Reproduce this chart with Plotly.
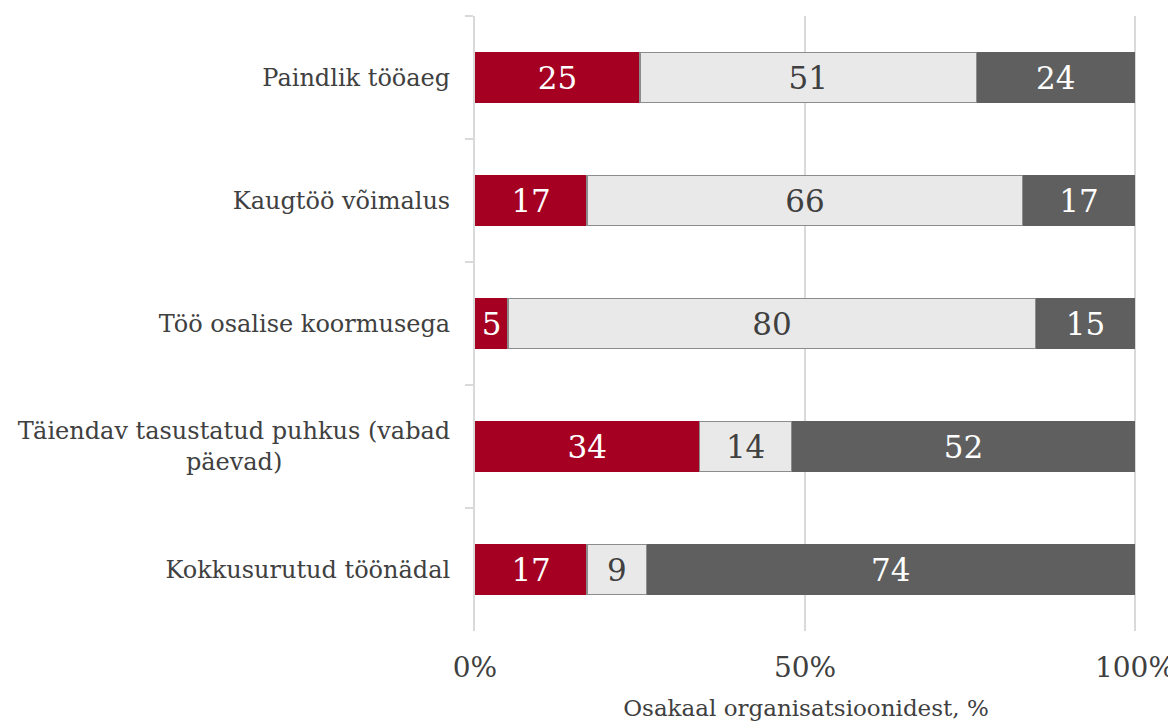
import plotly.graph_objects as go

categories = [
    "Paindlik tööaeg",
    "Kaugtöö võimalus",
    "Töö osalise koormusega",
    "Täiendav tasustatud puhkus (vabad<br>päevad)" + "\u00a0" * 22,
    "Kokkusurutud töönädal",
]
series_a = [25, 17, 5, 34, 17]
series_b = [51, 66, 80, 14, 9]
series_c = [24, 17, 15, 52, 74]
x_ticks = [0, 50, 100]
x_tick_labels = ["0%", "50%", "100%"]

FONT = "DejaVu Serif"
fig = go.Figure()

def add(vals, fill, line_color, line_w, txt_color, name):
    fig.add_trace(go.Bar(
        y=categories, x=vals, orientation="h", name=name,
        marker=dict(color=fill, line=dict(color=line_color, width=line_w)),
        text=[str(v) for v in vals], textposition="inside",
        insidetextanchor="middle", textangle=0, constraintext="none",
        textfont=dict(family=FONT, size=31, color=txt_color),
        hoverinfo="x+y",
    ))

add(series_a, "#A50021", "#A50021", 0, "#FFFFFF", "a")
add(series_b, "#E9E9E9", "#8C8C8C", 1.5, "#404040", "b")
add(series_c, "#5F5F5F", "#5F5F5F", 0, "#FFFFFF", "c")

fig.update_layout(
    barmode="stack",
    bargap=0.59,
    width=1176, height=722,
    margin=dict(l=467, r=47, t=8, b=99, autoexpand=False),
    plot_bgcolor="white", paper_bgcolor="white",
    showlegend=False,
    font=dict(family=FONT, color="#404040"),
)
fig.update_xaxes(
    range=[0, 100.3], tickvals=x_ticks, ticktext=x_tick_labels,
    showgrid=True, gridcolor="#D9D9D9", gridwidth=1.5, zeroline=False,
    showline=False,
    ticks="outside", ticklen=11, tickcolor="rgba(0,0,0,0)",
    tickfont=dict(family=FONT, size=28, color="#404040"),
    title=dict(text="Osakaal organisatsioonidest, %", standoff=17,
               font=dict(family=FONT, size=23, color="#404040")),
)
fig.update_yaxes(
    autorange="reversed", type="category",
    showline=True, linecolor="#D9D9D9", linewidth=2,
    ticks="outside", tickson="boundaries", ticklen=8, tickcolor="#D9D9D9", tickwidth=2,
    showgrid=False,
    ticklabelstandoff=18,
    tickfont=dict(family=FONT, size=24, color="#404040"),
)
fig.write_html("out.html")
